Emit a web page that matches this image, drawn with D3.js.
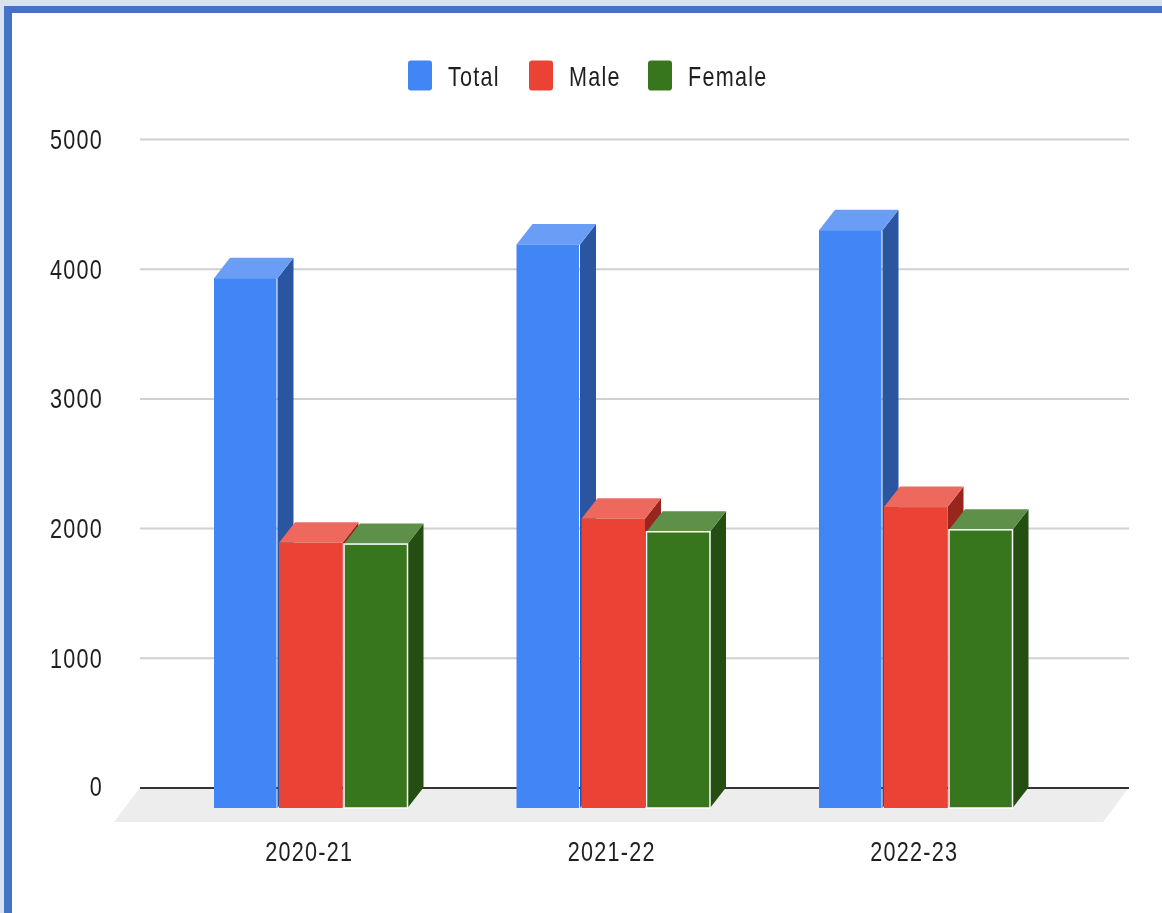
<!DOCTYPE html>
<html><head><meta charset="utf-8">
<script src="https://cdn.jsdelivr.net/npm/d3@7"></script>
<style>
html,body{margin:0;padding:0;background:#fff;width:1162px;height:913px;overflow:hidden}
svg{display:block;filter:blur(0.6px)}
text{font-family:"Liberation Sans",Arial,sans-serif;font-size:27px;letter-spacing:1.55px;fill:#1f1f1f}
</style></head><body><div id="chart"></div>
<script>
const categories = ["2020-21","2021-22","2022-23"];
const seriesNames = ["Total","Male","Female"];
const total  = [4085,4345,4455];
const male   = [2045,2230,2320];
const female = [2035,2130,2145];
const yTicks = [0,1000,2000,3000,4000,5000];
const frontColors = ["#4285f4","#ea4335","#38761d"];
const sideColors  = ["#2a55a0","#98261f","#254e13"];
const topColors   = ["#6a9ef6","#ee695d","#5f9049"];
const seriesValues = [total,male,female];

const W=1162,H=913, dx=16, dy=20.5, sx=0.8;
const svg=d3.select("#chart").append("svg").attr("width",W).attr("height",H);

// page frame
svg.append("rect").attr("x",-5).attr("y",-5).attr("width",W+10).attr("height",H+10).attr("fill","#d9e2f3");
svg.append("rect").attr("x",4).attr("y",6).attr("width",W+5).attr("height",H).attr("fill","#4472c4");
svg.append("rect").attr("x",12).attr("y",13).attr("width",W).attr("height",H).attr("fill","#fff");

const y=d3.scaleLinear().domain([0,5000]).range([787.5,139]);
const x0=d3.scaleBand().domain(categories).range([159,1066.5]);
const x1=d3.scaleBand().domain(seriesNames).range([55,250]);

// floor
const floorPts=[[140,y(0)],[1129,y(0)],[1103,822],[114,822]];
svg.append("polygon").attr("points",floorPts.join(" ")).attr("fill","#ededed");

// y axis + grid
const yAxis=d3.axisLeft(y).tickValues(yTicks).tickSize(0).tickPadding(0).tickFormat(d3.format("d"));
const gy=svg.append("g").call(yAxis);
gy.select(".domain").remove();
gy.selectAll(".tick text")
  .attr("x",103/sx).attr("dy",null).attr("y",d=>d===0?7.5:9.5)
  .attr("transform",`scale(${sx},1)`).attr("text-anchor","end");
gy.selectAll(".tick").append("line")
  .attr("x1",140).attr("x2",1129)
  .attr("stroke",d=>d===0?"#333":"#d0d0d0").attr("stroke-width",2);

// bars
const items=[];
categories.forEach((c,ci)=>seriesNames.forEach((s,si)=>items.push({c,s,si,v:seriesValues[si][ci]})));
const bar=svg.append("g").selectAll("g").data(items).join("g");
const bw=x1.bandwidth()-1.5;
const L=d=>x0(d.c)+x1(d.s), T=d=>y(d.v)+dy, B=y(0)+dy;
bar.append("polygon").attr("fill",d=>sideColors[d.si])
  .attr("points",d=>[[L(d)+bw,T(d)],[L(d)+bw+dx,T(d)-dy],[L(d)+bw+dx,B-dy],[L(d)+bw,B]].join(" "));
bar.append("polygon").attr("fill",d=>topColors[d.si])
  .attr("points",d=>[[L(d),T(d)],[L(d)+dx,T(d)-dy],[L(d)+bw+dx,T(d)-dy],[L(d)+bw,T(d)]].join(" "));
bar.append("rect").attr("x",L).attr("y",T).attr("width",d=>d.si===0?bw-1:bw).attr("height",d=>B-T(d))
  .attr("fill",d=>frontColors[d.si])
  .attr("stroke",d=>d.si===2?"#fff":"none").attr("stroke-width",1.5);

// x labels
svg.append("g").selectAll("text").data(categories).join("text")
  .attr("text-anchor","middle")
  .attr("transform",d=>`translate(${x0(d)+x0.bandwidth()/2-1},861) scale(${sx},1)`)
  .text(d=>d);

// legend
const legendSwatchX=[408,529,648];
const lg=svg.append("g").selectAll("g").data(seriesNames).join("g");
lg.append("rect").attr("x",(d,i)=>legendSwatchX[i]).attr("y",60.5).attr("width",24).attr("height",30).attr("rx",3)
  .attr("fill",(d,i)=>frontColors[i]);
lg.append("text").attr("transform",(d,i)=>`translate(${legendSwatchX[i]+40},86) scale(${sx},1)`).text(d=>d);
</script></body></html>
